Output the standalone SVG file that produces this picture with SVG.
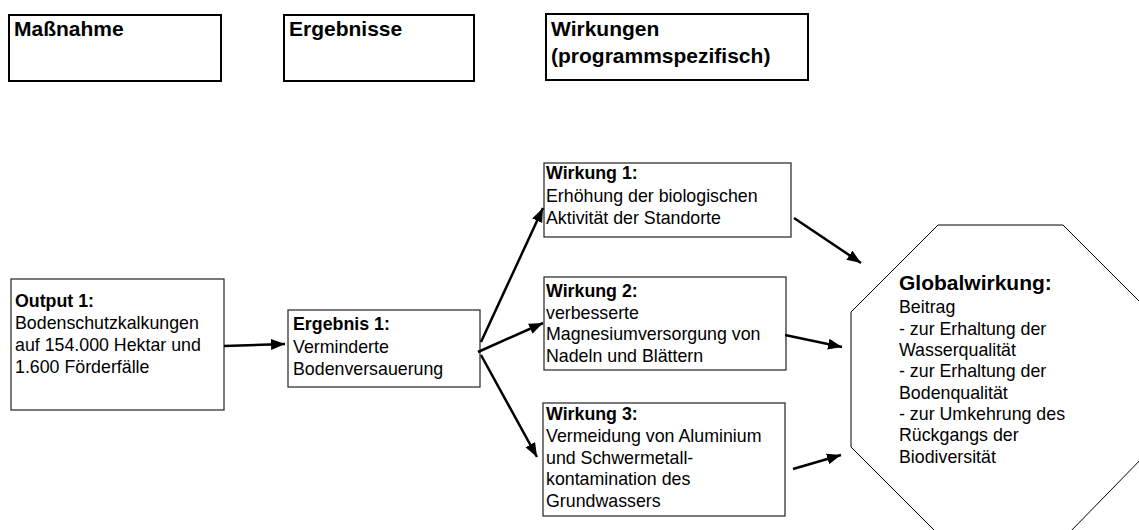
<svg xmlns="http://www.w3.org/2000/svg" width="1139" height="530" viewBox="0 0 1139 530">
  <style>
    text { font-family: "Liberation Sans", Arial, sans-serif; fill: #000; }
    .head { font-size: 21px; font-weight: bold; }
    .body { font-size: 17.8px; }
    .b { font-weight: bold; }
    .big { font-size: 21px; font-weight: bold; }
    .hbox { fill: #fff; stroke: #000; stroke-width: 2; }
    .box { fill: #fff; stroke: #222; stroke-width: 1.2; }
    .oct { fill: #fff; stroke: #000; stroke-width: 1; }
    .arr { stroke: #000; stroke-width: 2.5; fill: none; marker-end: url(#ah); }
  </style>
  <defs>
    <marker id="ah" markerWidth="6" markerHeight="5" refX="5.6" refY="2.2" orient="auto" markerUnits="strokeWidth">
      <path d="M0,0 L5.6,2.2 L0,4.4 z" fill="#000"/>
    </marker>
  </defs>
  <rect width="1139" height="530" fill="#fff"/>

  <!-- column headers -->
  <g id="hdr-massnahme">
    <rect class="hbox" x="9" y="15" width="212" height="66"/>
    <text class="head" x="14" y="36">Maßnahme</text>
  </g>
  <g id="hdr-ergebnisse">
    <rect class="hbox" x="284" y="15" width="190" height="66"/>
    <text class="head" x="289" y="36">Ergebnisse</text>
  </g>
  <g id="hdr-wirkungen">
    <rect class="hbox" x="546" y="14" width="262" height="66"/>
    <text class="head" x="551" y="36">Wirkungen</text>
    <text class="head" x="551" y="63">(programmspezifisch)</text>
  </g>

  <!-- nodes -->
  <g id="output1">
    <rect class="box" x="11" y="279" width="213" height="131"/>
    <text class="body" x="15" y="307"><tspan class="b">Output 1:</tspan><tspan x="15" dy="22">Bodenschutzkalkungen</tspan><tspan x="15" dy="22">auf 154.000 Hektar und</tspan><tspan x="15" dy="22">1.600 Förderfälle</tspan></text>
  </g>
  <g id="ergebnis1">
    <rect class="box" x="288" y="310" width="192" height="77"/>
    <text class="body" x="293" y="330"><tspan class="b">Ergebnis 1:</tspan><tspan x="293" dy="22.5">Verminderte</tspan><tspan x="293" dy="22.5">Bodenversauerung</tspan></text>
  </g>
  <g id="wirkung1">
    <rect class="box" x="544" y="163" width="247" height="74"/>
    <text class="body" x="546" y="179"><tspan class="b">Wirkung 1:</tspan><tspan x="546" dy="22.5">Erhöhung der biologischen</tspan><tspan x="546" dy="22.5">Aktivität der Standorte</tspan></text>
  </g>
  <g id="wirkung2">
    <rect class="box" x="544" y="277" width="242" height="93"/>
    <text class="body" x="546" y="297"><tspan class="b">Wirkung 2:</tspan><tspan x="546" dy="21.7">verbesserte</tspan><tspan x="546" dy="21.7">Magnesiumversorgung von</tspan><tspan x="546" dy="21.7">Nadeln und Blättern</tspan></text>
  </g>
  <g id="wirkung3">
    <rect class="box" x="543" y="403" width="242" height="113"/>
    <text class="body" x="546" y="420"><tspan class="b">Wirkung 3:</tspan><tspan x="546" dy="21.8">Vermeidung von Aluminium</tspan><tspan x="546" dy="21.8">und Schwermetall-</tspan><tspan x="546" dy="21.8">kontamination des</tspan><tspan x="546" dy="21.8">Grundwassers</tspan></text>
  </g>
  <g id="globalwirkung">
    <polygon class="oct" points="938,225 1063,225 1150,312 1150,450 1068,534 938,534 851,447 851,312"/>
    <text class="body" x="899" y="290"><tspan class="big">Globalwirkung:</tspan><tspan x="899" dy="23.3">Beitrag</tspan><tspan x="899" dy="21.5">- zur Erhaltung der</tspan><tspan x="899" dy="21.3">Wasserqualität</tspan><tspan x="899" dy="21.3">- zur Erhaltung der</tspan><tspan x="899" dy="21.3">Bodenqualität</tspan><tspan x="899" dy="21.3">- zur Umkehrung des</tspan><tspan x="899" dy="21.3">Rückgangs der</tspan><tspan x="899" dy="21.3">Biodiversität</tspan></text>
  </g>

  <!-- connectors -->
  <g id="connectors">
    <line class="arr" x1="224" y1="346" x2="285" y2="344"/>
    <line class="arr" x1="481" y1="342" x2="543" y2="208"/>
    <line class="arr" x1="478" y1="352" x2="543" y2="323"/>
    <line class="arr" x1="481" y1="355" x2="537" y2="457"/>
    <line class="arr" x1="794" y1="218" x2="861" y2="263"/>
    <line class="arr" x1="785" y1="335" x2="842" y2="347"/>
    <line class="arr" x1="793" y1="469" x2="841" y2="455"/>
  </g>
</svg>
